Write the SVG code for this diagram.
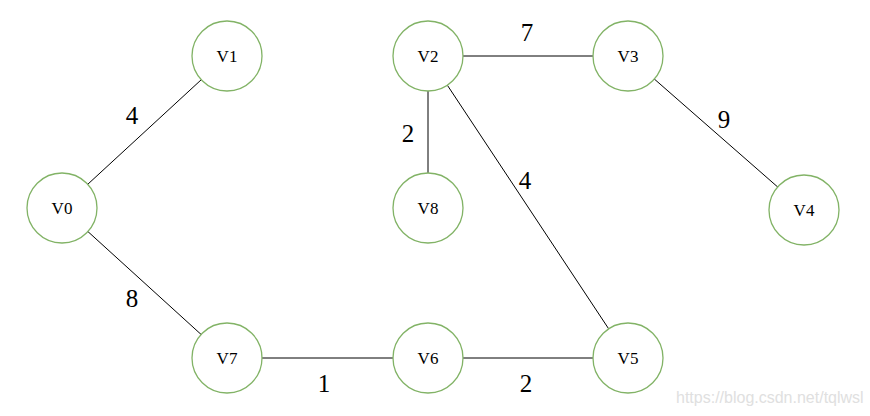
<svg xmlns="http://www.w3.org/2000/svg" width="870" height="416" viewBox="0 0 870 416">
<style>
.n{fill:#fff;stroke:#82b366;stroke-width:1.3}
.t{font-family:"Liberation Serif","Times New Roman",serif;font-size:17px;text-anchor:middle;dominant-baseline:central;fill:#000}
.e{stroke:#000;stroke-width:1;fill:none}
.l{font-family:"Liberation Serif","Times New Roman",serif;font-size:25px;text-anchor:middle;dominant-baseline:central;fill:#000}
.w{font-family:"Liberation Sans",Arial,sans-serif;font-size:16px;fill:#e0e0e0}
</style>
<rect width="870" height="416" fill="#fff"/>
<g id="connectors">
<line class="e" x1="62" y1="208" x2="227" y2="56"/>
<line class="e" x1="62" y1="208" x2="227" y2="358"/>
<line class="e" x1="428" y1="56" x2="628" y2="56"/>
<line class="e" x1="428" y1="56" x2="428" y2="208"/>
<line class="e" x1="428" y1="56" x2="628" y2="358"/>
<line class="e" x1="628" y1="56" x2="804" y2="210"/>
<line class="e" x1="227" y1="358" x2="428" y2="358"/>
<line class="e" x1="428" y1="358" x2="628" y2="358"/>
<text class="l" x="132" y="115">4</text>
<text class="l" x="132" y="298">8</text>
<text class="l" x="408" y="133">2</text>
<text class="l" x="527" y="32">7</text>
<text class="l" x="525" y="180">4</text>
<text class="l" x="724" y="119">9</text>
<text class="l" x="324" y="383">1</text>
<text class="l" x="526" y="383">2</text>
</g>
<g id="V0"><circle class="n" cx="62" cy="208" r="35"/><text class="t" x="62" y="208">V0</text></g>
<g id="V1"><circle class="n" cx="227" cy="56" r="35"/><text class="t" x="227" y="56">V1</text></g>
<g id="V2"><circle class="n" cx="428" cy="56" r="35"/><text class="t" x="428" y="56">V2</text></g>
<g id="V3"><circle class="n" cx="628" cy="56" r="35"/><text class="t" x="628" y="56">V3</text></g>
<g id="V4"><circle class="n" cx="804" cy="210" r="35"/><text class="t" x="804" y="210">V4</text></g>
<g id="V5"><circle class="n" cx="628" cy="358" r="35"/><text class="t" x="628" y="358">V5</text></g>
<g id="V6"><circle class="n" cx="428" cy="358" r="35"/><text class="t" x="428" y="358">V6</text></g>
<g id="V7"><circle class="n" cx="227" cy="358" r="35"/><text class="t" x="227" y="358">V7</text></g>
<g id="V8"><circle class="n" cx="428" cy="208" r="35"/><text class="t" x="428" y="208">V8</text></g>
<text class="w" x="676" y="403">https://blog.csdn.net/tqlwsl</text>
</svg>
